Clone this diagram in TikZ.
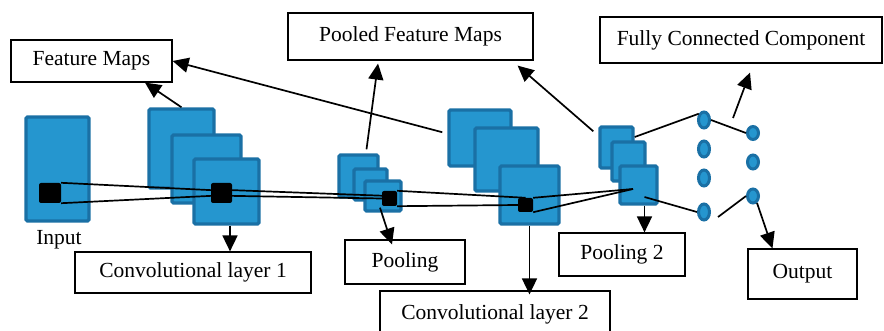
\documentclass[tikz,border=0pt]{standalone}
\usepackage{fontspec}
\setmainfont{Liberation Serif}
\usetikzlibrary{arrows.meta,calc,shapes.geometric}
\definecolor{mapfill}{HTML}{2596CF}
\definecolor{mapedge}{HTML}{1A70A5}
\tikzset{
  fmap/.style={draw=mapedge,fill=mapfill,line width=3.4pt,rounded corners=1.5pt,inner sep=0pt},
  ksq/.style={fill=black,rounded corners=2pt,inner sep=0pt},
  lbl/.style={draw,line width=1.2pt,fill=white,inner sep=0pt,font=\fontsize{21.5}{24}\selectfont},
  neuron/.style={ellipse,draw=mapedge,fill=mapfill,line width=3pt,inner sep=0pt},
  arr/.style={line width=1.7pt,-{Triangle[width=15pt,length=16pt]}},
  lnk/.style={line width=1.7pt}
}

\begin{document}
\begin{tikzpicture}[x=1pt,y=-1pt]
\useasboundingbox (0,0) rectangle (884,331);
\node[lbl,minimum width=161pt,minimum height=42pt] (fm) at (91.5,61) {Feature Maps};
\node[lbl,minimum width=245pt,minimum height=47pt] (pfm) at (410.5,36.5) {Pooled Feature Maps};
\node[lbl,minimum width=282pt,minimum height=46pt] (fc) at (741,40) {Fully Connected Component};
\node[lbl,minimum width=236pt,minimum height=41pt] (cl1) at (193,272.5) {Convolutional layer 1};
\node[lbl,minimum width=230pt,minimum height=46pt] (cl2) at (495,314) {Convolutional layer 2};
\node[lbl,minimum width=120pt,minimum height=44pt] (pool) at (405,262) {Pooling};
\node[lbl,minimum width=126pt,minimum height=43pt] (pl2) at (622,254.5) {Pooling 2};
\node[lbl,minimum width=109pt,minimum height=50pt] (out) at (802.5,274) {Output};

\node[fmap,minimum width=63pt,minimum height=104pt] (in) at (57.5,169) {};
\node[font=\fontsize{21.5}{24}\selectfont] (inlbl) at (59,240) {Input};
\node[fmap,minimum width=65pt,minimum height=79pt] (c1a) at (181.5,148.5) {};
\node[fmap,minimum width=69pt,minimum height=68pt] (c1b) at (206.5,169) {};
\node[fmap,minimum width=65pt,minimum height=65pt] (c1c) at (226.5,191.5) {};
\node[fmap,minimum width=39pt,minimum height=42pt] (p1a) at (358.5,176) {};
\node[fmap,minimum width=33pt,minimum height=31pt] (p1b) at (370.5,184.5) {};
\node[fmap,minimum width=36pt,minimum height=30pt] (p1c) at (383,196) {};
\node[fmap,minimum width=62pt,minimum height=56pt] (c2a) at (480,138) {};
\node[fmap,minimum width=63pt,minimum height=63pt] (c2b) at (506.5,159.5) {};
\node[fmap,minimum width=59pt,minimum height=58pt] (c2c) at (529.5,195) {};
\node[fmap,minimum width=33pt,minimum height=41pt] (p2a) at (616.5,147.5) {};
\node[fmap,minimum width=33pt,minimum height=39pt] (p2b) at (628.5,161.5) {};
\node[fmap,minimum width=37pt,minimum height=38pt] (p2c) at (638.5,185) {};

\node[neuron,minimum width=11pt,minimum height=16pt] (e1) at (704,120) {};
\node[neuron,minimum width=11pt,minimum height=16pt] (e2) at (704,149) {};
\node[neuron,minimum width=11pt,minimum height=16pt] (e3) at (704,178) {};
\node[neuron,minimum width=11pt,minimum height=16pt] (e4) at (704,212) {};
\node[neuron,minimum width=11pt,minimum height=13pt] (f1) at (753,133) {};
\node[neuron,minimum width=11pt,minimum height=14pt] (f2) at (753,162) {};
\node[neuron,minimum width=11pt,minimum height=14pt] (f3) at (753,196) {};

\node[ksq,minimum width=22pt,minimum height=20pt] (k0) at (50,193) {};
\node[ksq,minimum width=21pt,minimum height=20pt] (k1) at (221.5,193) {};
\node[ksq,minimum width=15pt,minimum height=15pt] (k2) at (389.5,198.5) {};
\node[ksq,minimum width=15pt,minimum height=14pt] (k3) at (525.5,205) {};

\coordinate (p2in) at (633,189);
\draw[lnk] (k0.north east) -- (k1.165);
\draw[lnk] (k0.south east) -- (k1.195);
\draw[lnk] (k1.15) -- (k2.160);
\draw[lnk] (k1.-15) -- (k2.west);
\draw[lnk] (k2.north east) -- (k3.north);
\draw[lnk] (k2.south east) -- (k3.west);
\draw[lnk] (k3.north east) -- (p2in);
\draw[lnk] (k3.south east) -- (p2in);
\draw[lnk] (p2a.30) -- (e1.130);
\draw[lnk] ($(p2c.center)+(6,12)$) -- (e4.west);
\draw[lnk] (e1.east) -- (f1.west);
\draw[lnk] ($(e4.east)+(7,5)$) -- (f3.west);

\draw[arr] (c1a.north) -- (fm.-22);
\draw[arr] ([xshift=-5pt]c2a.170) -- (fm.east);
\draw[arr] ([xshift=8pt,yshift=4pt]p1a.north) -- ([xshift=-32.5pt,yshift=-3pt]pfm.south);
\draw[arr] ([xshift=-5pt,yshift=-6pt]p2a.north west) -- ([xshift=-16pt,yshift=-5pt]pfm.south east);
\draw[arr] ($(e1.center)+(29,-2)$) -- ([xshift=9pt,yshift=-9pt]fc.south);
\coordinate (c1s) at ($(c1c.south)+(3.5,0)$);
\draw[arr] (c1s) -- (c1s |- cl1.north);
\draw[arr] ([xshift=-3pt,yshift=5pt]p1c.south) -- ([xshift=-13pt,yshift=-5pt]pool.north);
\coordinate (c2s) at (c2c.south);
\draw[arr] (c2s) -- ($(c2s |- cl2.north)+(0,4)$);
\coordinate (p2s) at ($(p2c.south)+(6,0)$);
\draw[arr] (p2s) -- (p2s |- pl2.north);
\draw[arr] (f3.-60) -- ([xshift=-30pt]out.north);
\end{tikzpicture}
\end{document}
